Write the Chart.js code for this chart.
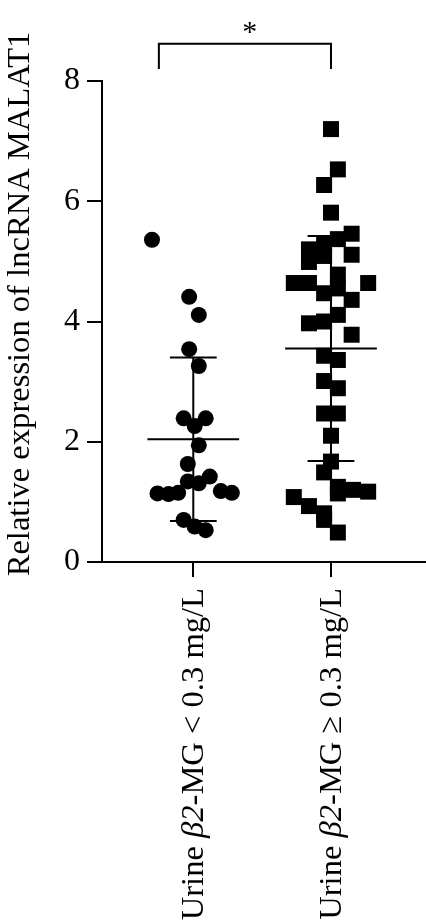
<!DOCTYPE html>
<html>
<head>
<meta charset="utf-8">
<script src="https://cdn.jsdelivr.net/npm/chart.js@4.4.1/dist/chart.umd.min.js"></script>
<style>
  html, body { margin: 0; padding: 0; background: #fff; }
  #wrap { width: 426px; height: 924px; }
</style>
</head>
<body>
<div id="wrap"><canvas id="chart" width="426" height="924"></canvas></div>
<script>
// 그룹 라벨 (β2 부분만 이탤릭)
const labelPre = ['Urine ', 'Urine '];
const labelItalic = ['β2', 'β2'];
const labelPost = ['-MG < 0.3 mg/L', '-MG ≥ 0.3 mg/L'];
const groupPos = [1, 2];
const yTitle = 'Relative expression of lncRNA MALAT1';
const yTicks = [0, 2, 4, 6, 8];

// Urine β2-MG < 0.3 mg/L (원)
const lowValues = [5.36, 4.41, 4.11, 3.54, 3.26, 2.39, 2.39, 2.26, 1.94, 1.63, 1.42, 1.34, 1.31, 1.14, 1.13, 1.15, 1.18, 1.15, 0.70, 0.59, 0.53];
const lowJitter = [-0.30, -0.03, 0.04, -0.03, 0.04, -0.07, 0.09, 0.01, 0.04, -0.04, 0.12, -0.04, 0.04, -0.26, -0.18, -0.11, 0.20, 0.28, -0.07, 0.01, 0.09];

// Urine β2-MG ≥ 0.3 mg/L (사각형)
const highValues = [7.20, 6.53, 6.27, 5.81, 5.46, 5.37, 5.30, 5.20, 5.11, 5.09, 4.99, 4.78, 4.64, 4.64, 4.64, 4.55, 4.47, 4.36, 4.11, 4.00, 3.97, 3.78, 3.43, 3.36, 3.01, 2.89, 2.47, 2.47, 2.10, 1.67, 1.49, 1.25, 1.20, 1.17, 1.14, 1.08, 0.93, 0.81, 0.70, 0.49];
const highJitter = [0, 0.05, -0.05, 0, 0.15, 0.05, -0.05, -0.16, 0.15, -0.05, -0.16, 0.05, -0.27, -0.16, 0.27, 0.05, -0.05, 0.15, 0.05, -0.05, -0.16, 0.15, -0.05, 0.05, -0.05, 0.05, -0.05, 0.05, 0, 0, -0.05, 0.05, 0.16, 0.27, 0.05, -0.27, -0.16, -0.05, -0.05, 0.05];

// 평균 ± SD
const means = [2.04, 3.55];
const sds = [1.36, 1.87];

// 유의성 표시
const bracketX = [0.75, 2.0];
const bracketY = [8.62, 8.20];
const starLabel = '*';
const starPos = [1.41, 8.66];

const SERIF = "'Liberation Serif', 'DejaVu Serif', serif";

function toPoints(values, jitter, center) {
  return values.map((v, i) => ({ x: center + jitter[i], y: v }));
}

// 평균선, SD 막대, 괄호, 라벨 그리기
const annotate = {
  id: 'annotate',
  afterDatasetsDraw(chart) {
    const ctx = chart.ctx;
    const xs = chart.scales.x, ys = chart.scales.y;
    ctx.save();
    ctx.strokeStyle = '#000';
    ctx.lineWidth = 2;
    ctx.lineCap = 'butt';
    groupPos.forEach((g, i) => {
      const cx = xs.getPixelForValue(g);
      const m = ys.getPixelForValue(means[i]);
      const hi = ys.getPixelForValue(means[i] + sds[i]);
      const lo = ys.getPixelForValue(means[i] - sds[i]);
      const wMean = xs.getPixelForValue(g + 0.333) - cx;
      const wCap = xs.getPixelForValue(g + 0.17) - cx;
      ctx.beginPath();
      ctx.moveTo(cx - wMean, m); ctx.lineTo(cx + wMean, m);
      ctx.moveTo(cx, hi); ctx.lineTo(cx, lo);
      ctx.moveTo(cx - wCap, hi); ctx.lineTo(cx + wCap, hi);
      ctx.moveTo(cx - wCap, lo); ctx.lineTo(cx + wCap, lo);
      ctx.stroke();
    });

    // 괄호
    const bx1 = xs.getPixelForValue(bracketX[0]);
    const bx2 = xs.getPixelForValue(bracketX[1]);
    const by1 = ys.getPixelForValue(bracketY[0]);
    const by2 = ys.getPixelForValue(bracketY[1]);
    ctx.beginPath();
    ctx.moveTo(bx1, by2); ctx.lineTo(bx1, by1); ctx.lineTo(bx2, by1); ctx.lineTo(bx2, by2);
    ctx.stroke();
    ctx.fillStyle = '#000';
    ctx.font = '30px ' + SERIF;
    ctx.textAlign = 'center';
    ctx.textBaseline = 'alphabetic';
    ctx.fillText(starLabel, xs.getPixelForValue(starPos[0]), ys.getPixelForValue(starPos[1]));

    // y축 제목
    ctx.save();
    ctx.translate(20, 304);
    ctx.rotate(-Math.PI / 2);
    ctx.font = '32.6px ' + SERIF;
    ctx.textAlign = 'center';
    ctx.textBaseline = 'middle';
    ctx.fillText(yTitle, 0, 0);
    ctx.restore();

    // x축 라벨 (세로, 이탤릭 혼합)
    const normal = '32.6px ' + SERIF;
    const italic = 'italic 32.6px ' + SERIF;
    groupPos.forEach((g, i) => {
      const parts = [[labelPre[i], normal], [labelItalic[i], italic], [labelPost[i], normal]];
      let total = 0;
      parts.forEach(p => { ctx.font = p[1]; total += ctx.measureText(p[0]).width; });
      ctx.save();
      ctx.translate(xs.getPixelForValue(g) + 10, ys.bottom + 26);
      ctx.rotate(-Math.PI / 2);
      ctx.textAlign = 'left';
      ctx.textBaseline = 'alphabetic';
      let x = -total;
      parts.forEach(p => {
        ctx.font = p[1];
        ctx.fillText(p[0], x, 0);
        x += ctx.measureText(p[0]).width;
      });
      ctx.restore();
    });
    ctx.restore();
  }
};

new Chart(document.getElementById('chart'), {
  type: 'scatter',
  data: {
    datasets: [
      {
        data: toPoints(lowValues, lowJitter, groupPos[0]),
        pointStyle: 'circle',
        pointRadius: 8,
        pointBackgroundColor: '#000',
        pointBorderWidth: 0
      },
      {
        data: toPoints(highValues, highJitter, groupPos[1]),
        pointStyle: 'rect',
        pointRadius: 11.3,
        pointBackgroundColor: '#000',
        pointBorderWidth: 0
      }
    ]
  },
  options: {
    responsive: false,
    animation: false,
    events: [],
    clip: false,
    layout: { autoPadding: false, padding: { top: 81, right: 0, bottom: 0, left: 0 } },
    plugins: { legend: { display: false }, tooltip: { enabled: false } },
    scales: {
      x: {
        type: 'linear',
        min: 0.337,
        max: 2.69,
        afterBuildTicks: axis => { axis.ticks = groupPos.map(v => ({ value: v })); },
        afterFit: scale => { scale.height = 362; },
        ticks: { display: false },
        grid: { drawOnChartArea: false, drawTicks: true, tickLength: 15, color: '#000', lineWidth: 2 },
        border: { display: true, color: '#000', width: 2 }
      },
      y: {
        min: 0,
        max: 8,
        afterBuildTicks: axis => { axis.ticks = yTicks.map(v => ({ value: v })); },
        afterFit: scale => { scale.width = 102; },
        ticks: { color: '#000', padding: 7, font: { family: SERIF, size: 32 } },
        grid: { drawOnChartArea: false, drawTicks: true, tickLength: 15, color: '#000', lineWidth: 2 },
        border: { display: true, color: '#000', width: 2 }
      }
    }
  },
  plugins: [annotate]
});
</script>
</body>
</html>
